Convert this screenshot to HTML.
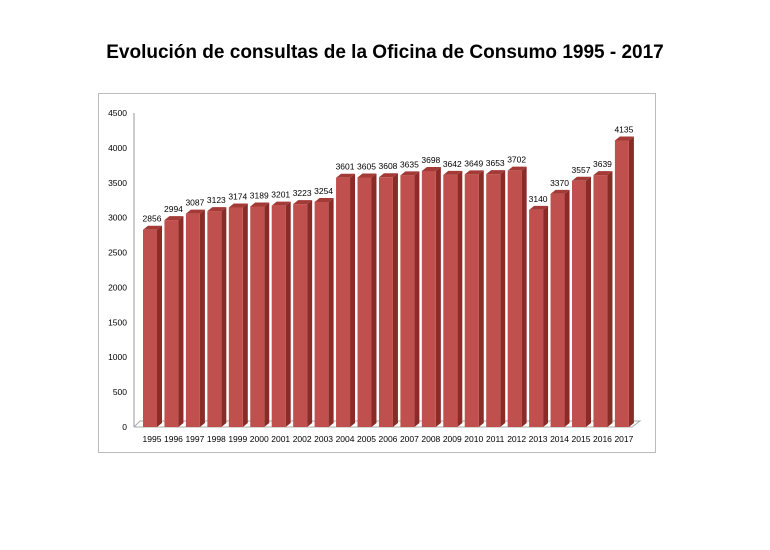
<!DOCTYPE html>
<html><head><meta charset="utf-8"><style>
body{margin:0;background:#fff;width:770px;height:545px;overflow:hidden;font-family:"Liberation Sans",sans-serif}
</style></head><body>
<svg width="770" height="545" xmlns="http://www.w3.org/2000/svg">
<text x="385" y="58" text-anchor="middle" font-size="19" font-weight="bold" fill="#000">Evolución de consultas de la Oficina de Consumo 1995 - 2017</text>
<rect x="98.5" y="93.5" width="557" height="359" fill="#fff" stroke="#bbb"/>
<g id="plot"></g>
</svg>
<script>
const years=["1995","1996","1997","1998","1999","2000","2001","2002","2003","2004","2005","2006","2007","2008","2009","2010","2011","2012","2013","2014","2015","2016","2017"];
const values=[2856,2994,3087,3123,3174,3189,3201,3223,3254,3601,3605,3608,3635,3698,3642,3649,3653,3702,3140,3370,3557,3639,4135];
const yTicks=[0,500,1000,1500,2000,2500,3000,3500,4000,4500];
const NS="http://www.w3.org/2000/svg";
const g=document.getElementById('plot');
const y0=427,yMax=113,vMax=4500;
const yS=v=>y0-(v/vMax)*(y0-yMax);
const x0=143,pitch=21.45,bw=14,d=5;
const xS=i=>x0+i*pitch;
function mk(t,a){const e=document.createElementNS(NS,t);for(const k in a)e.setAttribute(k,a[k]);g.appendChild(e);return e;}
let e;
e=mk('line',{x1:134,y1:113,x2:134,y2:427,stroke:'#999'});


e=mk('polyline',{points:`134,427 ${140},${421} 640,421 632,427 134,427`,fill:'none',stroke:'#aaa'});


yTicks.forEach(v=>{
 const t=mk('text',{x:127,y:yS(v)+3,'text-anchor':'end','font-size':'8.5',fill:'#000'});
 t.textContent=v;
 
 
});
values.forEach((v,i)=>{
 const x=xS(i),yt=yS(v)+2;
 const b=mk('g',{});
 
 
 const side=document.createElementNS(NS,'polygon');
 side.setAttribute('points',`${x+bw},${yt} ${x+bw+d},${yt-d+1} ${x+bw+d},${y0-d+1} ${x+bw},${y0}`);
 side.setAttribute('fill','#8b2b28');b.appendChild(side);
 const top=document.createElementNS(NS,'polygon');
 top.setAttribute('points',`${x},${yt} ${x+d},${yt-d+1} ${x+bw+d},${yt-d+1} ${x+bw},${yt}`);
 top.setAttribute('fill','#a33a36');b.appendChild(top);
 const f=document.createElementNS(NS,'rect');
 f.setAttribute('x',x);f.setAttribute('y',yt);f.setAttribute('width',bw);f.setAttribute('height',y0-yt);
 f.setAttribute('fill','#c0504d');b.appendChild(f);
 const l=mk('text',{x:x+bw/2+2,y:yt-8,'text-anchor':'middle','font-size':'8.5',fill:'#000'});
 l.textContent=v;
 
 
 const xl=mk('text',{x:x+bw/2+2,y:442,'text-anchor':'middle','font-size':'8.5',fill:'#000'});
 xl.textContent=years[i];
 
 
});
</script>
</body></html>
